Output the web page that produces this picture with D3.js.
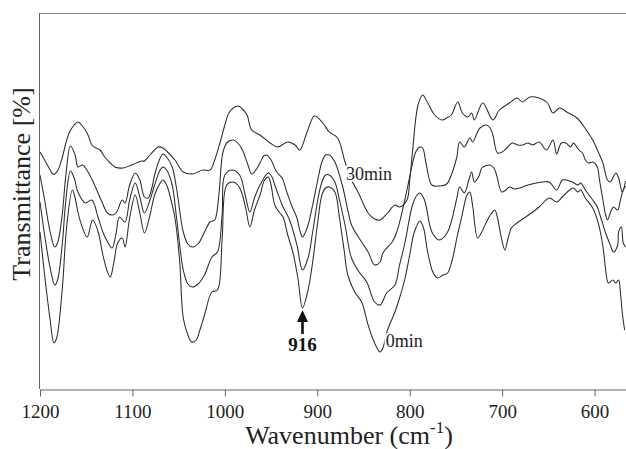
<!DOCTYPE html>
<html>
<head>
<meta charset="utf-8">
<script src="https://cdn.jsdelivr.net/npm/d3@7"></script>
<style>
  html, body { margin: 0; padding: 0; background: #fff; }
  svg { display: block; font-family: "Liberation Serif", "Times New Roman", serif; }
</style>
</head>
<body>
<svg id="chart" width="626" height="449"></svg>
<script>
// FTIR spectra: [wavenumber (cm-1), transmittance (arb. %)]
const spectrum30min = [
  [1200,59.25],[1195,57.25],[1189,54.75],[1186,53.75],[1184,53.75],[1180.5,54.75],[1176,57.75],[1172,61.5],
  [1168,64.25],[1163,66],[1159,66.75],[1155,66],[1149,64],[1143,60.75],[1135,59.75],[1130,58],[1124,56.5],
  [1119,55.5],[1110,55.25],[1101,56],[1090,57],[1087,57],[1081,58.5],[1072,60.5],[1067,60.25],[1062,59.25],
  [1054,57.25],[1045,54.25],[1035,53.75],[1024,54.75],[1016,54.75],[1011,57.25],[1005,61.75],[1000,66],
  [995,69.25],[986,70.75],[981,70],[976,68.5],[971,64.75],[962,63.5],[951,61.5],[943,60.5],[932,61.75],
  [924,61],[919,59.75],[911,64.25],[903,68.25],[894,66.5],[887,64.25],[878,62.75],[870,56.75],[863,52.25],
  [856,49.25],[845,44],[838,42.5],[832,42.25],[824,44],[816,46],[811,45.5],[803,47.25],[800,52.25],
  [797,59.25],[791,71],[786,73.5],[781,71.75],[773,68.5],[765,67.25],[760,67.75],[755,68.5],[748,71.75],
  [743,69],[737,68],[733,69],[730,67.25],[721,71.5],[710,67.25],[703,69.75],[692,71.5],[684,72.75],
  [678,71.75],[670,73],[660,72.75],[651,71.5],[645,69],[638,70.25],[630,69.25],[619,67.75],[609,64.75],
  [602,62.25],[596,59.25],[591,56.5],[586,52.25],[583,51.75],[577,54],[574,52.75],[570,49.25],[566.5,52]
];

const spectrum10min = [
  [1200,53.5],[1195,47.25],[1189,39.25],[1184,35.5],[1181,36.5],[1176,43.5],[1172,53.5],[1167,60.75],
  [1162,58.5],[1159,55.5],[1154,56],[1148,54.25],[1141,51],[1133,46.75],[1127,44],[1121,43.5],[1117,44.25],
  [1111,47.25],[1108,46.5],[1103,51],[1097,54],[1092,52.25],[1087,48],[1083,47.75],[1079,50.25],[1076,53.5],
  [1070,57.75],[1067,58.75],[1063,58],[1057,55.5],[1052,49.75],[1045,39.25],[1040,36.25],[1035,35.5],
  [1029,36.25],[1022,39.25],[1016,41.75],[1011,42.25],[1006.5,48.5],[1002,59.25],[997,61.75],[991,62.25],
  [986,61.5],[981,59.75],[975,56],[971,53.75],[966.5,54.75],[962,56.5],[958,58.25],[955,58.5],[950,57.25],
  [944,54.25],[938,52.75],[933,49.25],[928,46],[922,42.75],[919,39.75],[916,38],[911,40.25],[905,46],
  [899.5,52.25],[895,56.75],[891,58.5],[887,58.5],[881,56.75],[873,51],[867,44.75],[863,41],[852,36.75],
  [845,34.25],[838,31],[832,31.75],[829,34],[819,36.75],[814,39.25],[809,43.5],[803,49.75],[798,55.25],
  [793.5,59.25],[789,60.5],[786,60.25],[782,56],[776,51],[768,50.75],[760,51.25],[755,53.5],[749,58],
  [746,61.75],[741,60.5],[735,62.75],[732,61.75],[728,63.5],[724,65.25],[717,66],[713,65.25],[710,63.5],
  [705,59],[700,59.25],[694,60.5],[689,61.5],[683,61],[678,61],[672,61.5],[667,61],[660,61.75],[652,59.75],
  [645,62.25],[641,58.75],[636,61.5],[631,61.5],[626,60.5],[623,61.5],[617,59.75],[613,59],[610,57.25],
  [606.5,56.5],[602,56.75],[597,55.5],[595,52.75],[591,47.25],[588,43.5],[586,42.25],[583,44],[579.5,45.5],
  [575,44.75],[572,47.25],[569,49.75],[566.5,50.75]
];

const spectrum5min = [
  [1200,46.75],[1195,38.5],[1189,30.25],[1184,26],[1181,27.25],[1176,36],[1172,47.25],[1167,54.5],
  [1163,52.75],[1159,49.25],[1151,46.5],[1144,47.25],[1137,42.75],[1132,39.25],[1128,37.25],[1122,35.25],
  [1118,38.5],[1114,43],[1108,41.75],[1103,47.25],[1097,51.5],[1092,48],[1087,44],[1081,47.25],[1076,51],
  [1070,54.75],[1067,55.5],[1063,54.75],[1057,51],[1052,42.25],[1045,29.75],[1040,26.25],[1035,25.5],
  [1029,26.25],[1022,28.5],[1014,33],[1008,34.25],[1003,43.5],[1000,53.5],[992,54.75],[984,53.5],[978,48.5],
  [973,44.25],[968,47.75],[962,51],[953,54],[949,53],[946,51],[938,46],[930,42.25],[922,36],[916,29.75],
  [910,32.75],[905,39.25],[899.5,47.25],[895,51.75],[891,53.5],[887,53.5],[881,51.75],[876,47.25],[870,41],
  [863,32.75],[854,29],[846.5,26.75],[838,21.75],[832,21],[825,24],[816,26],[811,31],[805,36.75],[797,46],
  [792,48.5],[789,49],[784,47.25],[776,39.25],[768,37.25],[759,39.25],[749,47.75],[746,50.5],[741,49],
  [736,52.25],[733,54.25],[730,51.75],[725,53.25],[722,55.25],[713.5,56],[709,55.25],[706,53.5],[700.5,49.25],
  [696,49.75],[692,50.5],[686.5,50],[681,50.25],[672,51],[663,51.5],[656,51.75],[649,51.75],[641,49.75],
  [635,52.25],[631,52.25],[624,51.75],[618,51],[615,51.5],[610,49.75],[602,47.25],[597,45.5],[593.5,43],
  [588,39],[583,36],[579.5,34.25],[575,36],[574,39.25],[571,40.5],[569,36.5],[566.5,35.5]
];

const spectrum0min = [
  [1200,39.25],[1195,28.5],[1189,17.25],[1185,11.5],[1182,12.75],[1176,24.75],[1171,41],[1165,49.75],
  [1162,47.75],[1159,44.25],[1154,40.25],[1149,38],[1143,42.25],[1137,39.25],[1132,33.5],[1127,29.25],
  [1124,28],[1120,31.75],[1116,36.5],[1111,37.75],[1108,35.5],[1103,42.75],[1097,48.5],[1092,44],[1087,39],
  [1081,43.5],[1076,48.5],[1070,51.5],[1067,52.25],[1063,51],[1057,46],[1054,42.75],[1049,32.25],[1045,17.75],
  [1040,13.5],[1036,11.75],[1031,12.25],[1027,14.75],[1022,18.5],[1014,24.25],[1008,24.75],[1003,37.25],
  [998,51],[991,51.75],[986,51],[982,49.25],[977,44.75],[973,40.5],[968,44.75],[962,48.5],[957,52.25],
  [953,53],[950,51],[946,46],[940.5,44],[937,43],[932,38.5],[926.5,34.25],[921,27.75],[916,20.25],[910,24.75],
  [905,31.75],[899.5,41.75],[895,48.5],[891,50.25],[887,50.5],[881,49.25],[876,42.75],[871,34.75],[867,28.5],
  [859.5,24.25],[852,21.75],[845,16],[838,11.5],[832,9.25],[829,10.25],[824,14.75],[816,19.25],[811,22.75],
  [805,27.75],[800,33.5],[795,39.25],[789,42],[785,40.25],[781,34.75],[775,29.25],[770,27.75],[764,28.5],
  [759,29],[753.5,32.75],[749,37.75],[744,42.75],[738,48.5],[735,49.25],[732,46],[726.5,37.75],[722,39.25],
  [717,41.75],[712,43.75],[708,44.75],[705,42.75],[701.5,38.5],[697,34.75],[694,37.25],[690,40.25],
  [684,41.5],[676,42.75],[667,44.25],[660,45.5],[649,47.75],[641,46.75],[635,48],[627,49.75],[623,50.25],
  [618,49.25],[615,49.75],[610,47.75],[602,45.25],[597,42.25],[593.5,39],[590,34],[588,29.75],[585,26.5],
  [580.5,27.25],[577,26.5],[574,27.25],[572,24],[570,19],[567.5,14.75]
];

const xTicks = [1200, 1100, 1000, 900, 800, 700, 600];
const markedBand = 916;
const curveLabels = ["30min", "0min"];

const svg = d3.select("#chart");
const plotLeft = 40, plotRight = 626, plotTop = 13, plotBottom = 389;

const x = d3.scaleLinear().domain([1200, 566]).range([plotLeft, plotRight]);
const y = d3.scaleLinear().domain([0, 94]).range([plotBottom, plotTop]);

// frame: top and left edges
svg.append("line").attr("x1", plotLeft).attr("x2", plotRight)
  .attr("y1", plotTop + 0.5).attr("y2", plotTop + 0.5)
  .attr("stroke", "#8a8a8a").attr("stroke-width", 1);
svg.append("line").attr("x1", plotLeft - 0.5).attr("x2", plotLeft - 0.5)
  .attr("y1", plotTop).attr("y2", plotBottom)
  .attr("stroke", "#666").attr("stroke-width", 1);

// spectra
const line = d3.line()
  .x(d => x(d[0]))
  .y(d => y(d[1]))
  .curve(d3.curveCatmullRom.alpha(0.5));

[spectrum30min, spectrum10min, spectrum5min, spectrum0min].forEach(s => {
  svg.append("path")
    .datum(s)
    .attr("d", line)
    .attr("fill", "none")
    .attr("stroke", "#2b2b2b")
    .attr("stroke-width", 1.05);
});

// x axis
const xAxis = svg.append("g")
  .attr("transform", `translate(0,${plotBottom + 0.5})`)
  .call(d3.axisBottom(x).tickValues(xTicks).tickSize(7).tickSizeOuter(0).tickFormat(d3.format("d")));
xAxis.select(".domain").attr("stroke", "#666");
xAxis.selectAll(".tick line").attr("stroke", "#666");
xAxis.selectAll(".tick text")
  .attr("y", 28.5).attr("dy", 0)
  .attr("fill", "#222")
  .style("font-family", "Liberation Serif, serif")
  .style("font-size", "19px");

// axis titles
const xt = svg.append("text")
  .attr("x", 349).attr("y", 444)
  .attr("text-anchor", "middle")
  .attr("fill", "#222")
  .style("font-size", "26px");
xt.append("tspan").text("Wavenumber (cm");
xt.append("tspan").attr("dy", -11).style("font-size", "17px").text("-1");
xt.append("tspan").attr("dy", 11).text(")");

svg.append("text")
  .attr("transform", "translate(30,184) rotate(-90)")
  .attr("text-anchor", "middle")
  .attr("fill", "#222")
  .style("font-size", "26px")
  .text("Transmittance [%]");

// curve labels
const halo = sel => sel.attr("stroke", "#fff").attr("stroke-width", 4)
  .attr("paint-order", "stroke").attr("stroke-linejoin", "round");
svg.append("text").attr("x", x(869)).attr("y", 180)
  .attr("fill", "#222").style("font-size", "18px").text(curveLabels[0]).call(halo);
svg.append("text").attr("x", x(826)).attr("y", 347)
  .attr("fill", "#222").style("font-size", "18px").text(curveLabels[1]).call(halo);

// band marker
const ax = x(markedBand);
svg.append("path")
  .attr("d", `M${ax},310 L${ax - 5.5},322 L${ax + 5.5},322 Z`)
  .attr("fill", "#111");
svg.append("line").attr("x1", ax).attr("x2", ax).attr("y1", 320).attr("y2", 334)
  .attr("stroke", "#111").attr("stroke-width", 2.6);
svg.append("text").attr("x", ax).attr("y", 351)
  .attr("text-anchor", "middle").attr("fill", "#111")
  .style("font-size", "19px").style("font-weight", "bold")
  .text(String(markedBand));
</script>
</body>
</html>
